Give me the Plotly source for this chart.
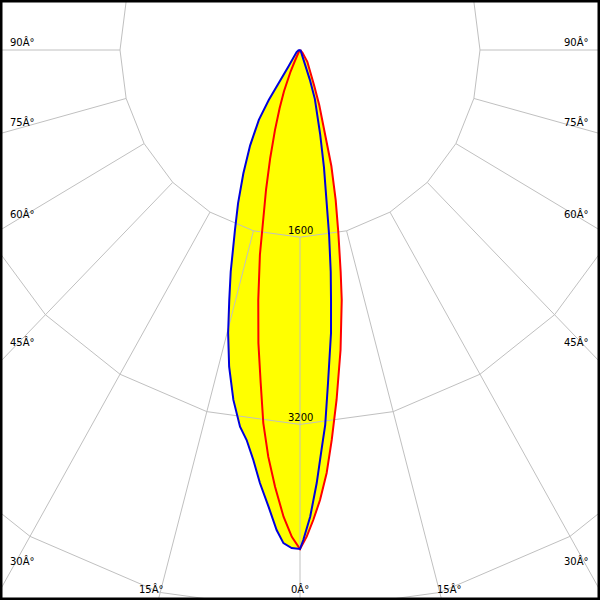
import math
import plotly.graph_objects as go

# ---- data: gamma angle (deg, negative = left half) and intensity (cd)
blue_gamma = [-90, -75, -60, -46, -36, -34, -33, -31.5, -28.5, -25.5, -22.8, -20.6, -19.3, -18, -16.4,
              -14.8, -13.1, -11.2, -9.4, -8.1, -6.75, -5.5, -4.1, -2.9, -2, -1, 0,
              0.4, 1.3, 2.3, 3.2, 4, 5, 6.5, 7.35, 8.2, 9.3, 10.5, 12, 14, 17.5, 19, 21, 30, 45, 60, 90]
blue_cd = [0, 15, 35, 62, 177, 310, 510, 700, 930, 1170, 1420, 1643, 1800, 1993, 2227,
           2501, 2779, 3049, 3264, 3367, 3529, 3718, 3913, 4108, 4217, 4257, 4265,
           4188, 3990, 3704, 3424, 3213, 2857, 2435, 2155, 1915, 1600, 1310, 1025, 740, 440, 270, 122, 40, 15, 5, 0]

red_gamma = [-90, -40, -30, -26, -24.5, -22, -20, -18, -16, -14.2, -12.5, -11.5, -9.85, -8.4, -7,
             -5.84, -4.64, -3.4, -2.1, -1, 0,
             0.82, 1.68, 2.65, 3.75, 4.84, 6.2, 8, 9.85, 10.8, 12.3, 13.9, 15.7, 17.5, 20, 22.5, 26, 33, 45, 60, 90]
red_cd = [0, 8, 30, 100, 200, 380, 530, 720, 960, 1230, 1530, 1788, 2169, 2531, 2867,
          3205, 3487, 3739, 3992, 4161, 4265,
          4160, 4019, 3850, 3623, 3345, 3009, 2589, 2169, 1929, 1600, 1320, 1030, 740, 500, 330, 200, 120, 30, 8, 0]

ring_values = [1600, 3200, 4800]
ring_labels = ["1600", "3200"]
spoke_angles = [-90, -75, -60, -45, -30, -15, 0, 15, 30, 45, 60, 75, 90]
side_labels = ["90Â°", "75Â°", "60Â°", "45Â°", "30Â°"]
bottom_labels = ["15Â°", "0Â°", "15Â°"]


def to_xy(gammas, values):
    xs = [v * math.sin(math.radians(g)) for g, v in zip(gammas, values)]
    ys = [-v * math.cos(math.radians(g)) for g, v in zip(gammas, values)]
    return xs, ys


fig = go.Figure()

bx, by = to_xy(blue_gamma, blue_cd)
rx, ry = to_xy(red_gamma, red_cd)

# yellow fills
for xs, ys in ((bx, by), (rx, ry)):
    fig.add_trace(go.Scatter(x=xs, y=ys, mode="lines", fill="toself", fillcolor="#ffff00",
                             line=dict(width=0, color="#ffff00"), hoverinfo="skip"))

# grid: rings (15-degree polygons) and spokes starting at the first ring
gx, gy = [], []
for R in ring_values:
    a_list = list(range(0, 361, 15))
    xs, ys = to_xy(a_list, [R] * len(a_list))
    gx += xs + [None]
    gy += ys + [None]
for a in spoke_angles:
    xs, ys = to_xy([a, a], [ring_values[0], 20000])
    gx += xs + [None]
    gy += ys + [None]
fig.add_trace(go.Scatter(x=gx, y=gy, mode="lines", line=dict(color="#c0c0c0", width=1),
                         hoverinfo="skip"))

# curves
fig.add_trace(go.Scatter(x=rx, y=ry, mode="lines", line=dict(color="#ff0000", width=2), hoverinfo="skip"))
fig.add_trace(go.Scatter(x=bx, y=by, mode="lines", line=dict(color="#0000dd", width=2), hoverinfo="skip"))

# calibration (pixels per cd)
kx = 180 / 1600
ky = 187.2 / 1600
W, H = 600, 600
cx_px, cy_px = 300, 50

font = dict(family="DejaVu Sans", size=10, color="black")
ann = []
for R, lab in zip(ring_values, ring_labels):
    ann.append(dict(x=0, y=-R, xref="x", yref="y", text=lab, showarrow=False, font=font,
                    xanchor="center", yanchor="bottom", yshift=-1))

side_y_px = [42.5, 122, 214, 342, 561]
for lab, ypx in zip(side_labels, side_y_px):
    ann.append(dict(x=8 / W, y=1 - ypx / H, xref="paper", yref="paper", text=lab, showarrow=False,
                    font=font, xanchor="left", yanchor="middle"))
    ann.append(dict(x=591 / W, y=1 - ypx / H, xref="paper", yref="paper", text=lab, showarrow=False,
                    font=font, xanchor="right", yanchor="middle"))
bottom_x_px = [151, 300, 449]
for lab, xpx in zip(bottom_labels, bottom_x_px):
    ann.append(dict(x=xpx / W, y=1 - 589 / H, xref="paper", yref="paper", text=lab, showarrow=False,
                    font=font, xanchor="center", yanchor="middle"))

fig.update_layout(
    width=W, height=H, autosize=False,
    margin=dict(l=0, r=0, t=0, b=0, pad=0),
    paper_bgcolor="white", plot_bgcolor="white",
    showlegend=False, hovermode=False,
    xaxis=dict(range=[-cx_px / kx, (W - cx_px) / kx], visible=False, fixedrange=True),
    yaxis=dict(range=[-(H - cy_px) / ky, cy_px / ky], visible=False, fixedrange=True),
    annotations=ann,
    shapes=[dict(type="rect", xref="paper", yref="paper", x0=0, y0=0, x1=1, y1=1,
                 line=dict(color="black", width=5), layer="above")],
)

fig.write_html("out.html", config={"displayModeBar": False},
               post_script="document.body.style.margin='0';document.body.style.overflow='hidden';")
